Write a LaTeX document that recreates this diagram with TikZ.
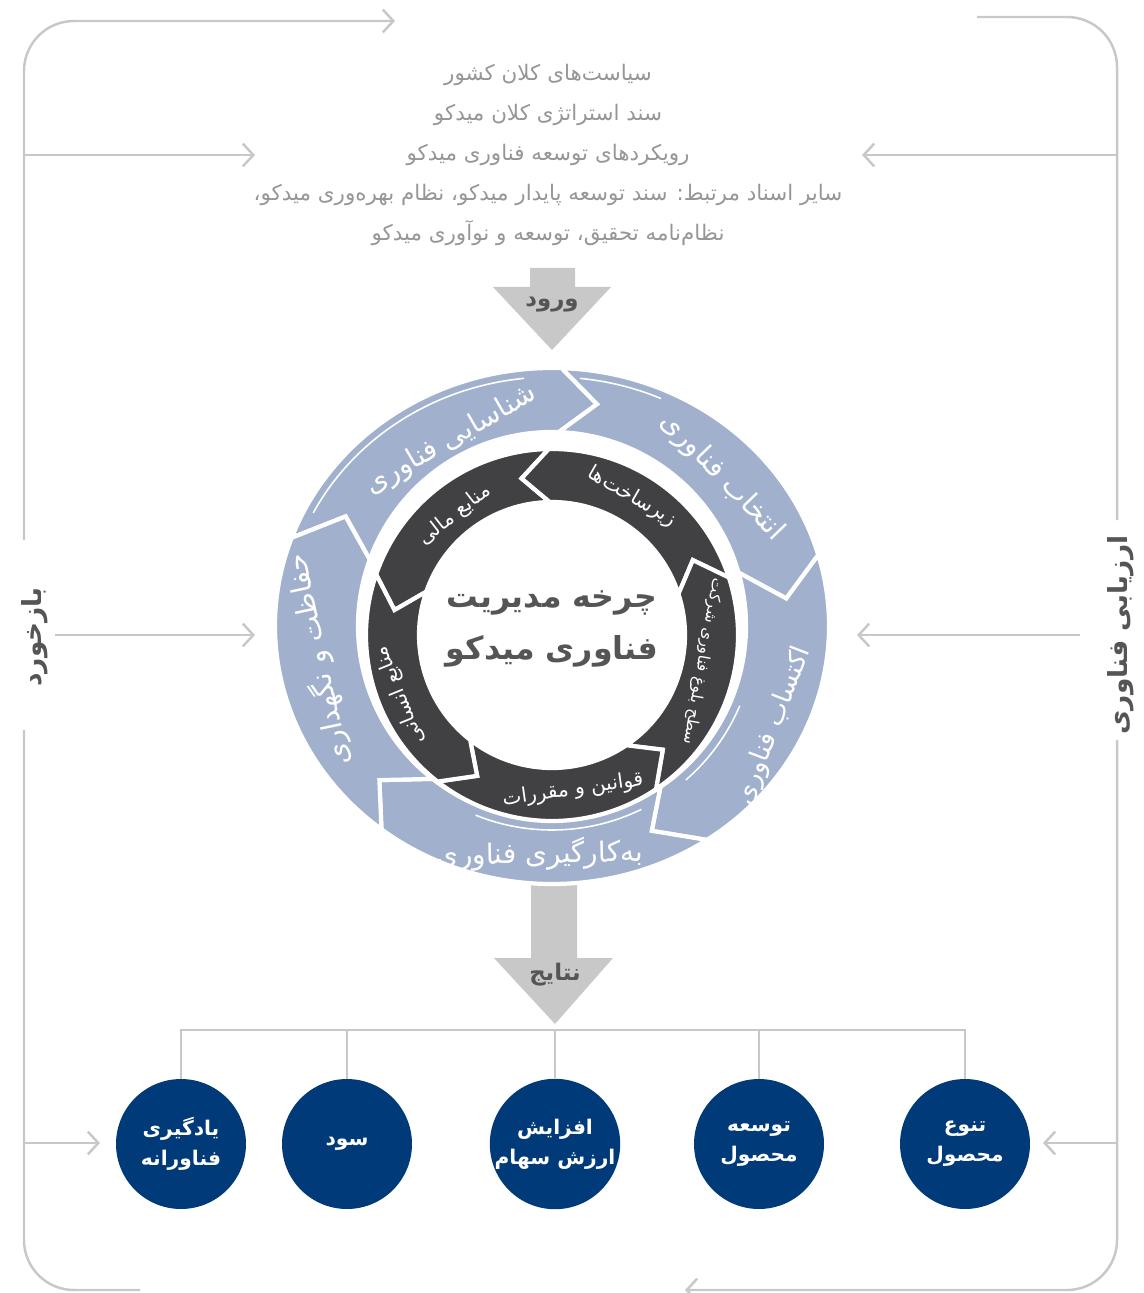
\documentclass[tikz,border=0pt]{standalone}
\usepackage{fontspec}
\usepackage{xcolor}
\usepackage{tikz}
\usetikzlibrary{arrows.meta}
\newfontfamily\farsifont[Script=Arabic]{DejaVu Sans}
\TeXXeTstate=1
\newcommand{\fatext}[1]{\beginR #1\endR}
\definecolor{cyclecolor}{RGB}{160,176,205}
\definecolor{resourcecolor}{RGB}{65,65,67}
\definecolor{resultcolor}{RGB}{0,58,120}
\definecolor{loopcolor}{RGB}{200,200,200}
\definecolor{inputcolor}{RGB}{150,150,150}
\definecolor{titlecolor}{RGB}{85,85,85}
% light segment of the outer cycle, clockwise from #1 to #2
\newcommand{\cyclepiece}[2]{%
  \filldraw[cycleseg] (#1:277 and 258)
    arc[start angle=#1, end angle=#2, x radius=277, y radius=258]
    -- ({#2-9}:236 and 226) -- (#2:194)
    arc[start angle=#2, end angle=#1, radius=194]
    -- ({#1-9}:236 and 226) -- cycle;}
% dark segment of the inner ring, anticlockwise from #1 to #2
\newcommand{\resourcepiece}[2]{%
  \filldraw[resourceseg] (#1:186)
    arc[start angle=#1, end angle=#2, radius=186]
    -- ({#2+10}:159.5) -- (#2:133)
    arc[start angle=#2, end angle=#1, radius=133]
    -- ({#1+10}:159.5) -- cycle;}

\begin{document}
\begin{tikzpicture}[x=0.02cm, y=-0.02cm,
    loopline/.style={draw=loopcolor, line width=1.4pt, rounded corners=1cm},
    looparrow/.style={loopline, -{Straight Barb[length=6pt,width=13pt]}},
    busline/.style={draw=loopcolor, line width=1.2pt},
    bigarrow/.style={fill=loopcolor},
    arrowlabel/.style={text=titlecolor, font=\farsifont\bfseries\fontsize{13}{16}\selectfont},
    cycleseg/.style={fill=cyclecolor, draw=white, line width=2.4pt},
    resourceseg/.style={fill=resourcecolor, draw=white, line width=2.4pt},
    shine/.style={draw=white, line width=0.9pt},
    cyclelabel/.style={text=white, font=\farsifont\fontsize{16}{19}\selectfont},
    resourcelabel/.style={text=white, font=\farsifont\fontsize{11.5}{14}\selectfont},
    result/.style={circle, fill=resultcolor, minimum size=2.6cm, inner sep=0pt, align=center, text=white,
      font=\farsifont\bfseries\fontsize{11.5}{17}\selectfont},
    sidelabel/.style={rotate=90, text=titlecolor, font=\farsifont\bfseries\fontsize{15}{18}\selectfont},
  ]
  \useasboundingbox (0,0) rectangle (1143,1293);

  % Inputs
  \node[text=inputcolor, align=center, font=\farsifont\fontsize{12.2}{22.7}\selectfont] (inputs) at (548,155) {
    \fatext{سیاست‌های کلان کشور}\\
    \fatext{سند استراتژی کلان میدکو}\\
    \fatext{رویکردهای توسعه فناوری میدکو}\\
    \fatext{سایر اسناد مرتبط: سند توسعه پایدار میدکو، نظام بهره‌وری میدکو،}\\
    \fatext{نظام‌نامه تحقیق، توسعه و نوآوری میدکو}
  };

  % Input arrow
  \fill[bigarrow] (530,268) -- (575,268) -- (575,287) -- (611,287) -- (552,350) -- (493,287) -- (530,287) -- cycle;
  \node[arrowlabel] (inlabel) at (552,305) {\fatext{ورود}};

  % Output arrow
  \fill[bigarrow] (531,870) -- (577,870) -- (577,958) -- (613,958) -- (555,1024) -- (494,958) -- (531,958) -- cycle;
  \node[arrowlabel] (outlabel) at (555,975) {\fatext{نتایج}};

  % Outer cycle
  \begin{scope}[shift={(552,626)}, yscale=-1]
    \cyclepiece{160}{88}
    \cyclepiece{88}{16}
    \cyclepiece{16}{-56}
    \cyclepiece{-56}{-128}
    \cyclepiece{232}{160}
    \draw[shine] (153:268 and 249) arc[start angle=153, end angle=96, x radius=268, y radius=249];
    \draw[shine] (84:268 and 249) arc[start angle=84, end angle=66, x radius=268, y radius=249];
    \draw[shine] (-23:204) arc[start angle=-23, end angle=-49, radius=204];
    \draw[shine] (-64:204) arc[start angle=-64, end angle=-112, radius=204];
    \node[cyclelabel, rotate=30] (identify) at (-101,186) {\fatext{شناسایی فناوری}};
    \node[cyclelabel, rotate=-46] (select) at (170,149) {\fatext{انتخاب فناوری}};
    \node[cyclelabel, rotate=69, font=\farsifont\fontsize{15}{18}\selectfont] (acquire) at (222,-100) {\fatext{اکتساب فناوری}};
    \node[cyclelabel, rotate=1] (apply) at (-12,-228) {\fatext{به‌کارگیری فناوری}};
    \node[cyclelabel, rotate=102] (maintain) at (-234,-34) {\fatext{حفاظت و نگهداری}};
  \end{scope}

  % Inner ring
  \begin{scope}[shift={(552,635)}, yscale=-1]
    \resourcepiece{91}{161}
    \resourcepiece{18}{91}
    \resourcepiece{-56}{18}
    \resourcepiece{-128}{-56}
    \resourcepiece{161}{232}
    \node[resourcelabel, rotate=38] (finance) at (-97,120) {\fatext{منابع مالی}};
    \node[resourcelabel, rotate=-30] (infra) at (80,138) {\fatext{زیرساخت‌ها}};
    \node[resourcelabel, rotate=-100, font=\farsifont\fontsize{9}{11}\selectfont] (maturity) at (-10:153) {\fatext{سطح بلوغ فناوری شرکت}};
    \node[resourcelabel, rotate=8] (rules) at (21,-155) {\fatext{قوانین و مقررات}};
    \node[resourcelabel, rotate=112] (people) at (-152,-60) {\fatext{منابع انسانی}};
  \end{scope}

  % Title
  \node[text=titlecolor, align=center, font=\farsifont\bfseries\fontsize{18}{29.5}\selectfont] (cycletitle) at (552,629)
    {\fatext{چرخه مدیریت}\\\fatext{فناوری میدکو}};

  % Results
  \node[result] (learning) at (181,1144) {\fatext{یادگیری}\\\fatext{فناورانه}};
  \node[result] (profit) at (347,1144) {\fatext{سود}};
  \node[result] (share) at (555,1144) {\fatext{افزایش}\\\fatext{ارزش سهام}};
  \node[result] (develop) at (759,1144) {\fatext{توسعه}\\\fatext{محصول}};
  \node[result] (diverse) at (965,1144) {\fatext{تنوع}\\\fatext{محصول}};
  \coordinate (bus) at (555,1030);
  \draw[busline] (learning.north) |- (bus) -| (diverse.north);
  \foreach \r in {profit,share,develop}
    \draw[busline] (\r.north) -- (\r.north |- bus);

  % Side labels
  \node[sidelabel] (feedback) at (35,637) {\fatext{بازخورد}};
  \node[sidelabel] (evaluation) at (1121,635) {\fatext{ارزیابی فناوری}};

  % Feedback loop (left)
  \coordinate (fbA) at (140,1290);
  \coordinate (fbB) at (24,1290);
  \coordinate (fbC) at (24,730);
  \coordinate (fbD) at (24,540);
  \coordinate (fbE) at (24,21);
  \coordinate (fbF) at (395,21);
  \draw[loopline] (fbA) -- (fbB) -- (fbC);
  \draw[looparrow] (fbD) -- (fbE) -- (fbF);
  \coordinate (fb1) at (24,155);
  \coordinate (fb2) at (55,635);
  \coordinate (fb3) at (24,1143);
  \draw[looparrow] (fb1) -- ++(231,0) coordinate (fb1end);
  \draw[looparrow] (fb2) -- ++(200,0) coordinate (fb2end);
  \draw[looparrow] (fb3) -- ++(76,0) coordinate (fb3end);

  % Evaluation loop (right)
  \coordinate (evA) at (977,17);
  \coordinate (evB) at (1117,17);
  \coordinate (evC) at (1117,520);
  \coordinate (evD) at (1117,740);
  \coordinate (evE) at (1117,1290);
  \coordinate (evF) at (685,1290);
  \draw[loopline] (evA) -- (evB) -- (evC);
  \draw[looparrow] (evD) -- (evE) -- (evF);
  \coordinate (ev1) at (1117,155);
  \coordinate (ev2) at (1080,635);
  \coordinate (ev3) at (1117,1143);
  \draw[looparrow] (ev1) -- ++(-255,0) coordinate (ev1end);
  \draw[looparrow] (ev2) -- ++(-223,0) coordinate (ev2end);
  \draw[looparrow] (ev3) -- ++(-74,0) coordinate (ev3end);
\end{tikzpicture}
\end{document}
